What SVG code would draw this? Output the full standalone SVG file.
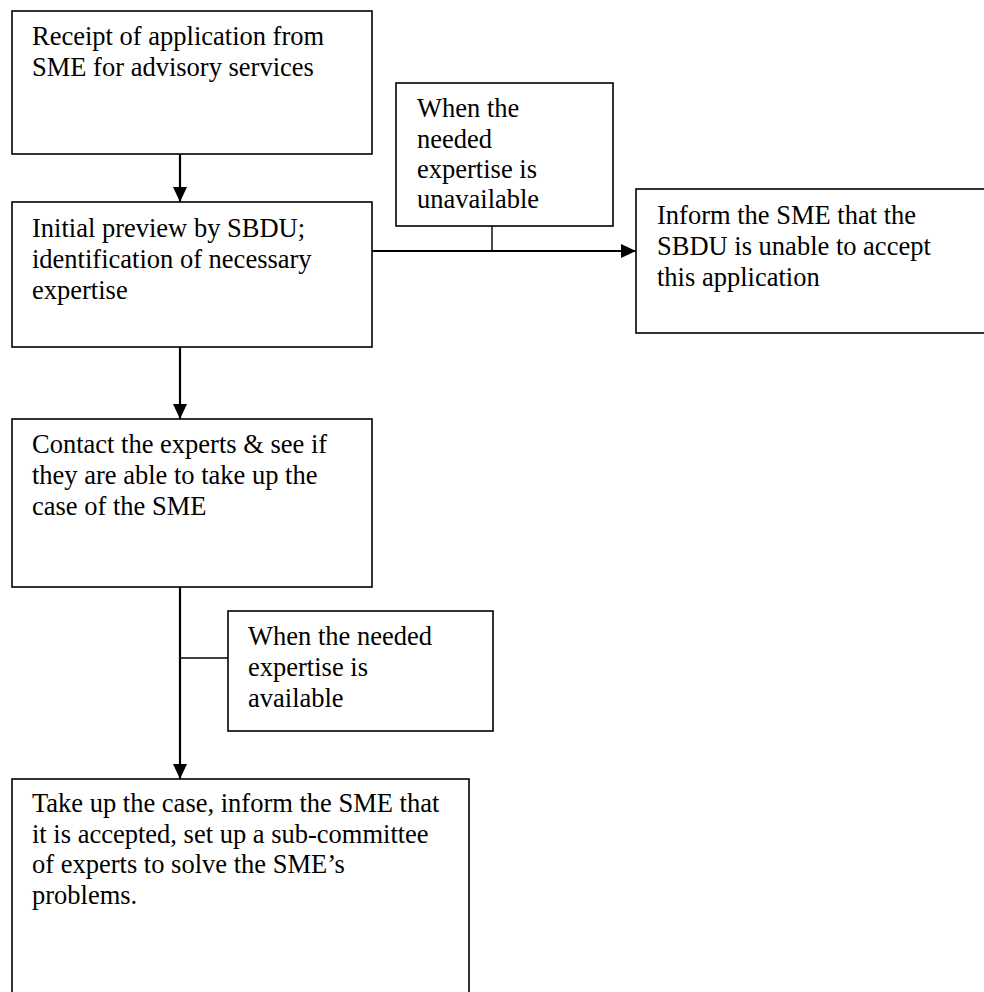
<svg xmlns="http://www.w3.org/2000/svg" width="984" height="992" viewBox="0 0 984 992">
<style>
  .box { fill: #ffffff; stroke: #000000; stroke-width: 1.6; }
  .lbl { font-family: "Liberation Serif", "Times New Roman", serif; font-size: 26.5px; fill: #000000; }
  .flow { stroke: #000000; stroke-width: 2.2; fill: none; }
  .tie { stroke: #000000; stroke-width: 1.4; fill: none; }
</style>
<defs>
  <marker id="arrow" markerUnits="userSpaceOnUse" markerWidth="15" markerHeight="14" refX="15" refY="7" orient="auto">
    <path d="M0,0 L15,7 L0,14 z" fill="#000000"/>
  </marker>
</defs>
<rect x="0" y="0" width="984" height="992" fill="#ffffff"/>

<g id="connectors">
  <line class="flow" x1="180" y1="154" x2="180" y2="202" marker-end="url(#arrow)"/>
  <line class="flow" x1="180" y1="347" x2="180" y2="419" marker-end="url(#arrow)"/>
  <line class="flow" x1="180" y1="587" x2="180" y2="779" marker-end="url(#arrow)"/>
  <line class="flow" x1="372" y1="251" x2="636" y2="251" marker-end="url(#arrow)"/>
  <line class="tie" x1="492" y1="226" x2="492" y2="251"/>
  <line class="tie" x1="180" y1="658" x2="228" y2="658"/>
</g>

<g id="receipt">
  <rect class="box" x="12" y="11" width="360" height="143"/>
  <text class="lbl" x="32" y="45">Receipt of application from</text>
  <text class="lbl" x="32" y="76">SME for advisory services</text>
</g>

<g id="preview">
  <rect class="box" x="12" y="202" width="360" height="145"/>
  <text class="lbl" x="32" y="237">Initial preview by SBDU;</text>
  <text class="lbl" x="32" y="268">identification of necessary</text>
  <text class="lbl" x="32" y="299">expertise</text>
</g>

<g id="unavailable">
  <rect class="box" x="396" y="83" width="217" height="143"/>
  <text class="lbl" x="417" y="117">When the</text>
  <text class="lbl" x="417" y="148">needed</text>
  <text class="lbl" x="417" y="178">expertise is</text>
  <text class="lbl" x="417" y="208">unavailable</text>
</g>

<g id="inform-reject">
  <rect class="box" x="636" y="189" width="360" height="144"/>
  <text class="lbl" x="657" y="224">Inform the SME that the</text>
  <text class="lbl" x="657" y="255">SBDU is unable to accept</text>
  <text class="lbl" x="657" y="286">this application</text>
</g>

<g id="contact">
  <rect class="box" x="12" y="419" width="360" height="168"/>
  <text class="lbl" x="32" y="453">Contact the experts &amp; see if</text>
  <text class="lbl" x="32" y="484">they are able to take up the</text>
  <text class="lbl" x="32" y="515">case of the SME</text>
</g>

<g id="available">
  <rect class="box" x="228" y="611" width="265" height="120"/>
  <text class="lbl" x="248" y="645">When the needed</text>
  <text class="lbl" x="248" y="676">expertise is</text>
  <text class="lbl" x="248" y="707">available</text>
</g>

<g id="take-up">
  <rect class="box" x="12" y="779" width="457" height="230"/>
  <text class="lbl" x="32" y="812">Take up the case, inform the SME that</text>
  <text class="lbl" x="32" y="843">it is accepted, set up a sub-committee</text>
  <text class="lbl" x="32" y="873">of experts to solve the SME’s</text>
  <text class="lbl" x="32" y="904">problems.</text>
</g>
</svg>
